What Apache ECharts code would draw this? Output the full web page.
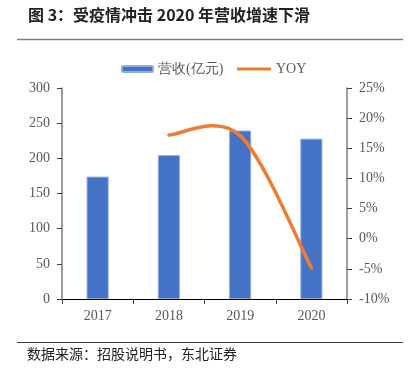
<!DOCTYPE html>
<html><head><meta charset="utf-8">
<script src="https://cdn.jsdelivr.net/npm/echarts@6/dist/echarts.min.js"></script>
<style>html,body{margin:0;padding:0;background:#fff}#c{width:408px;height:370px}</style>
</head><body><div id="c"></div>
<script>
var categories = ['2017', '2018', '2019', '2020'];
var revenue = [174, 204.5, 239.5, 228];
var yoy = [null, 17.2, 17.1, -4.8];
var leftTicks = [0, 50, 100, 150, 200, 250, 300];
var rightTicks = [-10, -5, 0, 5, 10, 15, 20, 25];
var titleText = '图 3：受疫情冲击 2020 年营收增速下滑';
var sourceText = '数据来源：招股说明书，东北证券';

var chart = echarts.init(document.getElementById('c'), null, {renderer: 'canvas'});
var serif = '"Liberation Serif", "Times New Roman", serif';
var cjk = '"Noto Sans CJK SC", sans-serif';
var labelColor = '#595959';
var orange = '#ED7D31';

function valid(i) { return i >= 0 && i < yoy.length && yoy[i] != null; }

// Excel-style smoothed segment (Catmull-Rom -> cubic Bezier) from point i-1 to point i
function renderSegment(params, api) {
  var i = params.dataIndex;
  if (!valid(i) || !valid(i - 1)) return null;
  var p1 = api.coord([i - 1, yoy[i - 1]]);
  var p2 = api.coord([i, yoy[i]]);
  var p0 = valid(i - 2) ? api.coord([i - 2, yoy[i - 2]]) : p1;
  var p3 = valid(i + 1) ? api.coord([i + 1, yoy[i + 1]]) : p2;
  var c1 = [p1[0] + (p2[0] - p0[0]) / 6, p1[1] + (p2[1] - p0[1]) / 6];
  var c2 = [p2[0] - (p3[0] - p1[0]) / 6, p2[1] - (p3[1] - p1[1]) / 6];
  return {
    type: 'bezierCurve',
    z2: 10,
    shape: {x1: p1[0], y1: p1[1], cpx1: c1[0], cpy1: c1[1], cpx2: c2[0], cpy2: c2[1], x2: p2[0], y2: p2[1]},
    style: {stroke: orange, lineWidth: 3.5, fill: null, lineCap: 'round'}
  };
}

chart.setOption({
  animation: false,
  graphic: [
    {type: 'text', left: 28, top: 7, style: {text: titleText, font: 'bold 16px ' + cjk, fill: '#222'}},
    {type: 'line', shape: {x1: 17, y1: 39.5, x2: 403, y2: 39.5}, style: {stroke: '#7f7f7f', lineWidth: 1.5}},
    {type: 'line', shape: {x1: 17, y1: 342.5, x2: 403, y2: 342.5}, style: {stroke: '#404040', lineWidth: 1.2}},
    {type: 'text', left: 27, top: 347, style: {text: sourceText, font: '14px ' + cjk, fill: '#222'}}
  ],
  legend: [
    {data: ['营收(亿元)'], left: 121, top: 62, padding: 0, itemWidth: 31, itemHeight: 6, itemGap: 5,
     textStyle: {color: labelColor, fontSize: 14, fontFamily: serif}},
    {data: [{name: 'YOY', icon: 'rect'}], left: 237, top: 62, padding: 0, itemWidth: 34, itemHeight: 3,
     textStyle: {color: labelColor, fontSize: 14, fontFamily: serif}}
  ],
  grid: {left: 62, right: 61, top: 88, bottom: 71, containLabel: false},
  xAxis: {
    type: 'category', data: categories, boundaryGap: true,
    axisLine: {lineStyle: {color: '#000', width: 1}},
    axisTick: {show: true, alignWithLabel: false, length: 5, lineStyle: {color: '#404040'}},
    axisLabel: {color: labelColor, fontSize: 14, fontFamily: serif, margin: 10}
  },
  yAxis: [
    {type: 'value', min: 0, max: 300, interval: 50,
     axisLine: {show: true, lineStyle: {color: '#7f7f7f', width: 1.5}},
     axisTick: {show: true, length: 5, lineStyle: {color: '#404040'}},
     splitLine: {show: false},
     axisLabel: {color: labelColor, fontSize: 14, fontFamily: serif, margin: 12}},
    {type: 'value', min: -10, max: 25, interval: 5, position: 'right',
     axisLine: {show: true, lineStyle: {color: '#7f7f7f', width: 1.5}},
     axisTick: {show: true, length: 5, lineStyle: {color: '#404040'}},
     splitLine: {show: false},
     axisLabel: {color: labelColor, fontSize: 14, fontFamily: serif, margin: 12, formatter: '{value}%'}}
  ],
  series: [
    {name: '营收(亿元)', type: 'bar', z: 2, data: revenue, barWidth: '31%',
     itemStyle: {color: '#4472C4', borderColor: '#8FAADC', borderWidth: 1}},
    {name: 'YOY', type: 'custom', z: 5, yAxisIndex: 1, clip: false,
     data: yoy.map(function (v, i) { return [i, v]; }),
     encode: {x: 0, y: 1},
     itemStyle: {color: orange},
     renderItem: renderSegment}
  ]
});
</script></body></html>
